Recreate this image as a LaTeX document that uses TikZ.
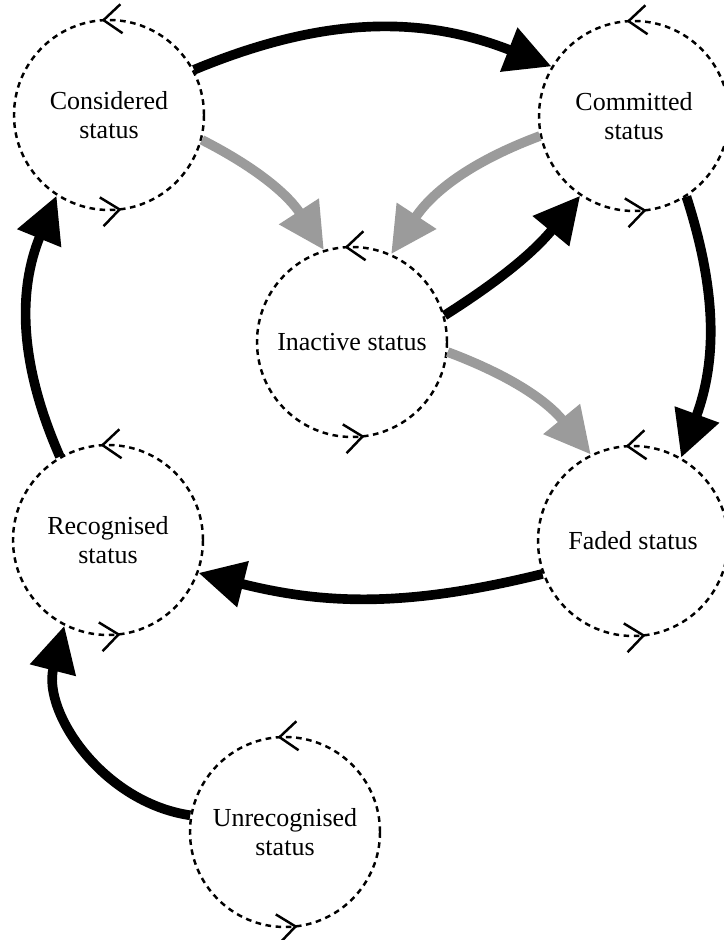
\documentclass[tikz,border=0pt]{standalone}
\usepackage{fontspec}
\setmainfont{Liberation Serif}
\usetikzlibrary{arrows.meta,decorations.markings}
\definecolor{flowgray}{RGB}{155,155,155}
\begin{document}
\begin{tikzpicture}
  [state/.style={circle, draw, dashed, line width=1.4pt, dash pattern=on 3.2pt off 2.6pt,
     minimum size=3.8cm, inner sep=0pt, align=center,
     font=\fontsize{14.8}{16.5}\selectfont,
     postaction={decorate, decoration={markings,
       mark=at position 0.2625 with {\arrow[solid]{Straight Barb[length=0.36cm, width=0.58cm]}},
       mark=at position 0.771 with {\arrow[solid]{Straight Barb[length=0.36cm, width=0.58cm]}}}}},
   flow/.style={line width=5.5pt, -{Triangle[length=0.92cm, width=0.9cm]}},
   fadeflow/.style={flow, color=flowgray}]
  \useasboundingbox (0,0) rectangle (14.46,-18.8);
  \node[state] (considered)   at (2.18,-2.3)   {Considered\\status};
  \node[state] (committed)    at (12.68,-2.32) {Committed\\status};
  \node[state] (inactive)     at (7.04,-6.84)  {Inactive status};
  \node[state] (recognised)   at (2.16,-10.8)  {Recognised\\status};
  \node[state] (faded)        at (12.66,-10.82) {Faded status};
  \node[state] (unrecognised) at (5.7,-16.64)  {Unrecognised\\status};

\path[draw]
    (considered.28) edge [flow, bend left=22] (committed.149)
    (considered.-15) edge [fadeflow, bend left=15] (inactive.107)
    (committed.192) edge [fadeflow, bend right=18] (inactive.66)
    (inactive.16) edge [flow, bend right=9] (committed.236)
    (inactive.-6) edge [fadeflow, bend left=15] (faded.116)
    (committed.-57) edge [flow, bend left=19] (faded.60)
    (faded.200) edge [flow, bend left=14] (recognised.-20)
    (recognised.120) edge [flow, bend left=23] (considered.237)
    (unrecognised.170) edge [flow, bend left=48] (recognised.243)
;
\end{tikzpicture}
\end{document}
